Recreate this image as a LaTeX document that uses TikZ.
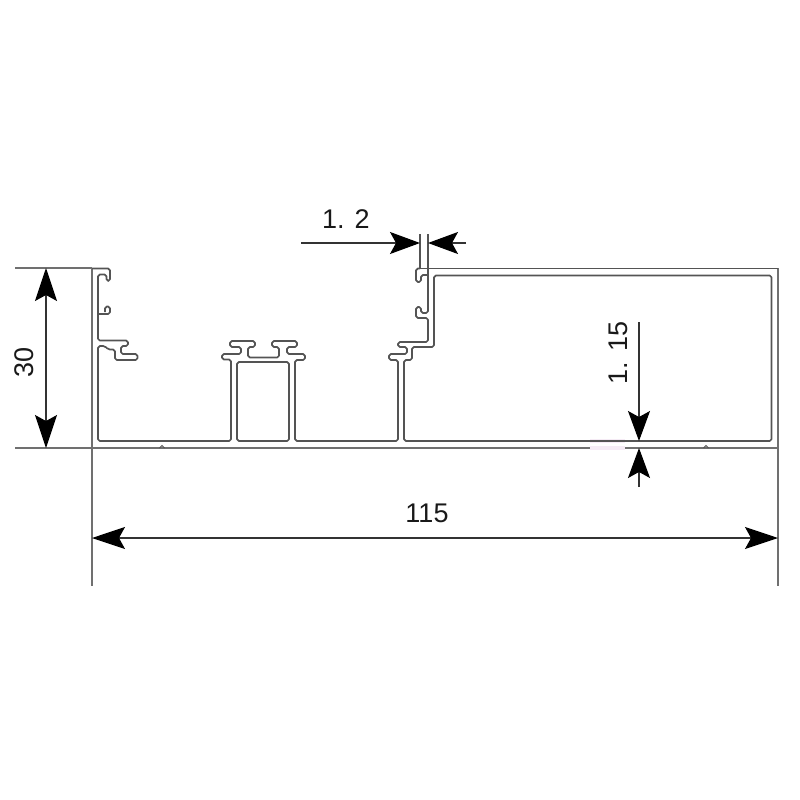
\documentclass[tikz,border=0pt]{standalone}
\usepackage{fontspec}
\setmainfont{Liberation Sans}
\usetikzlibrary{arrows.meta}
\definecolor{prof}{gray}{0.33}
\definecolor{dimc}{gray}{0.2}
\tikzset{
  profile/.style={draw=prof,line width=1.7pt,rounded corners=1.8pt,line join=round},
  sharp/.style={draw=prof,line width=1.7pt},
  extline/.style={draw=dimc!70!white,line width=1.5pt},
  dimline/.style={draw=dimc,line width=1.1pt},
  tipstyle/.style={{Stealth[length=#1,width=22pt,inset=6pt,black]}-{Stealth[length=#1,width=22pt,inset=6pt,black]}},
  tipend/.style={-{Stealth[length=30pt,width=22pt,inset=6pt,black]}},
  dimtext/.style={font=\fontsize{27}{27}\selectfont,text=black!90,inner sep=0pt}
}
\begin{document}
\begin{tikzpicture}[x=1pt,y=-1pt]
\useasboundingbox (0,0) rectangle (800,800);
% extension lines
\draw[extline] (15,268) -- (92,268);
\draw[extline] (15,448) -- (778,448);
\draw[extline] (92,268) -- (92,586);
\draw[extline] (778,268) -- (778,586);
% faint tint on the base
\draw[draw=violet!8,line width=4pt] (590,441) -- (625,441);
\draw[draw=violet!8,line width=4pt] (590,448) -- (625,448);
% left lip
\draw[profile] (92,268.5) -- (110,268.5) -- (110,281) -- (106.5,281) -- (106.5,274.5) -- (98,274.5) -- (98,340.5)
  -- (128,340.5) -- (128,346) -- (121,346) -- (121,354) -- (137.5,354) -- (137.5,360) -- (115,360) -- (115,349.5) -- (108,349.5) -- (105,346) -- (98,346)
  -- (98,441) -- (231,441) -- (231,359.5) -- (222,359.5) -- (222,354) -- (241,354) -- (241,347) -- (230,347) -- (230,341)
  -- (255,341) -- (255,347) -- (248,347) -- (248,357.5) -- (279,357.5) -- (279,347) -- (272,347) -- (272,341) -- (297,341) -- (297,347)
  -- (287,347) -- (287,354) -- (305,354) -- (305,360) -- (295,360) -- (295,441) -- (398,441) -- (398,360) -- (389,360) -- (389,354)
  -- (407,354) -- (407,347) -- (398,347) -- (398,342) -- (428,342) -- (428,318) -- (416,318) -- (416,307) -- (421,307) -- (421,313) -- (428,313) -- (428,234);
\draw[profile] (98,314) -- (110,314) -- (110,306.5) -- (105,306.5) -- (105,312);
% inner box of the centre mullion
\draw[profile] (237,362) rectangle (289,441);
% right chamber
\draw[profile] (420,268.5) -- (416,268.5) -- (416,282) -- (421,282) -- (421,275) -- (428,275);
\draw[sharp] (420,234) -- (420,268.5) -- (778,268.5);
\draw[profile] (404,441) -- (404,360) -- (412,360) -- (412,347) -- (434,347) -- (434,275.5) -- (771.5,275.5) -- (771.5,441) -- cycle;
% small grooves in the base
\draw[draw=prof,line width=1pt] (159.5,448) -- (162,445.5) -- (164.5,448);
\draw[draw=prof,line width=1pt] (703.5,448) -- (706,445.5) -- (708.5,448);
% dimension 30
\coordinate (h30a) at (46,268); \coordinate (h30b) at (46,448);
\draw[dimline,tipstyle=33pt] (h30a) -- (h30b);
\node[dimtext,rotate=90] (t30) at (24,362) {30};
% dimension 115
\coordinate (w115a) at (92,538); \coordinate (w115b) at (778,538);
\draw[dimline,tipstyle=33pt] (w115a) -- (w115b);
\node[dimtext] (t115) at (427,513) {115};
% dimension 1.2
\coordinate (a12s) at (301,243); \coordinate (a12e) at (420,243);
\coordinate (b12s) at (466,243); \coordinate (b12e) at (428,243);
\draw[dimline,tipend] (a12s) -- (a12e);
\draw[dimline,tipend] (b12s) -- (b12e);
\node[dimtext] (t12) at (346,219) {1. 2};
% dimension 1.15
\coordinate (a115s) at (639,322); \coordinate (a115e) at (639,441);
\coordinate (b115s) at (639,487); \coordinate (b115e) at (639,448);
\draw[dimline,tipend] (a115s) -- (a115e);
\draw[dimline,tipend] (b115s) -- (b115e);
\node[dimtext,rotate=90] (t115b) at (618,353) {1. 15};
\end{tikzpicture}
\end{document}
